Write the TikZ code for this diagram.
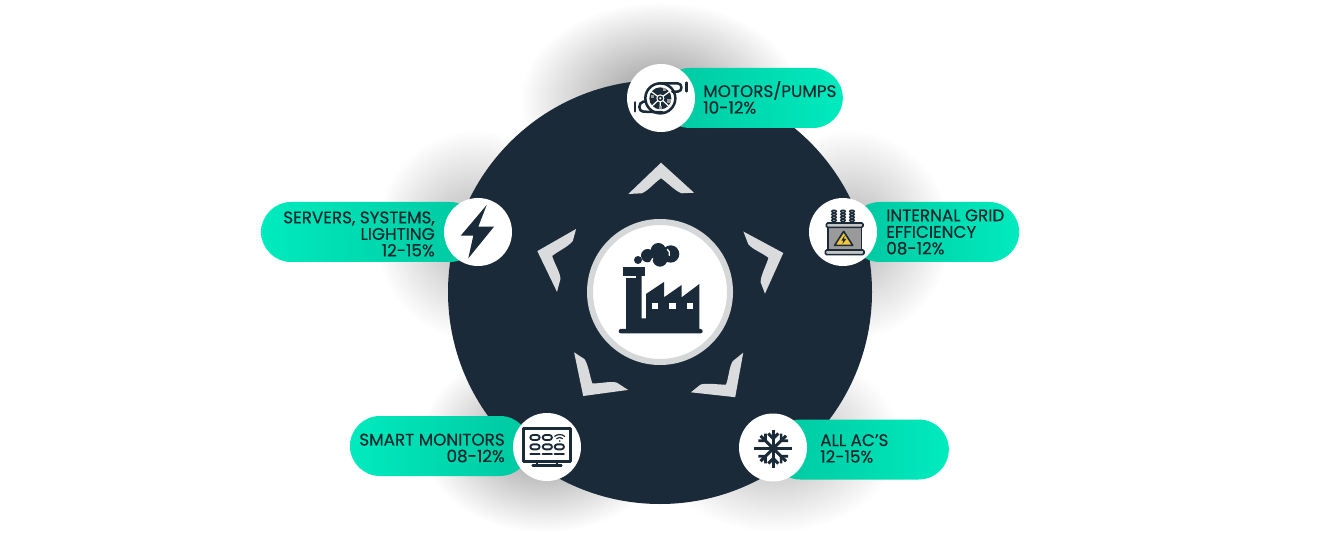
\documentclass[tikz,border=0pt]{standalone}
\usepackage{fontspec}
\setmainfont[FakeBold=0.45]{Poppins}
\usetikzlibrary{shapes.misc,fadings}
\definecolor{navy}{HTML}{1B2A38}
\definecolor{ink}{HTML}{0E2A30}
\definecolor{mintA}{HTML}{00C7A0}
\definecolor{mintB}{HTML}{00EBBE}
\definecolor{chev}{HTML}{D9DBDC}
\definecolor{ringc}{HTML}{D5D7D8}
\definecolor{tgray}{HTML}{9A9A9A}
\definecolor{tlight}{HTML}{C4C4C4}
\definecolor{warn}{HTML}{F4C63F}
\tikzfading[name=softblobA, inner color=transparent!58, outer color=transparent!100]
\tikzfading[name=softblobB, inner color=transparent!70, outer color=transparent!100]
\tikzset{
  pillbox/.style={rounded rectangle, minimum height=45pt, inner sep=0pt, outer sep=0pt},
  pillR/.style={pillbox, left color=mintA, right color=mintB},
  pillL/.style={pillbox, left color=mintB, right color=mintA},
  badge/.style={circle, fill=white, minimum size=51pt, inner sep=0pt, outer sep=0pt},
  lab/.style={text=ink, inner sep=0pt, font=\fontsize{12.6}{12.4}\selectfont},
  blobA/.style={fill=black, path fading=softblobA, fit fading=true},
  blobB/.style={fill=black, path fading=softblobB, fit fading=true},
  icon/.style={draw=navy, line width=1.9pt, line cap=round, line join=round},
  thinicon/.style={draw=navy, line width=1.4pt, line cap=round, line join=round},
}
\begin{document}
\begin{tikzpicture}[x=0.75pt,y=-0.75pt]
\useasboundingbox (0,0) rectangle (1326,534);
\fill[white] (0,0) rectangle (1326,534);
% soft shadows
\fill[blobA] (660,100) ellipse [x radius=140, y radius=98];
\fill[blobB] (475,235) ellipse [x radius=100, y radius=105];
\fill[blobB] (850,235) ellipse [x radius=100, y radius=105];
\fill[blobA] (545,440) ellipse [x radius=125, y radius=92];
\fill[blobB] (775,440) ellipse [x radius=125, y radius=92];
% disc
\node[circle, fill=navy, minimum size=318pt, inner sep=0pt] (disc) at (660,292) {};
% chevrons
\foreach \a in {0,72,144,216,288}{
  \fill[chev, rotate around={\a:(660,292)}]
    (661,162.7) -- (694,192.7) -- (681.7,193.3)
    .. controls (675,191) and (668,183) .. (661,178.3)
    .. controls (654,183) and (648,191) .. (641.7,193.3)
    -- (628.3,194) -- cycle;
}
% centre
\node[circle, fill=white, draw=ringc, line width=4.5pt, minimum size=105pt, inner sep=0pt] (hub) at (660,292) {};
% factory
\begin{scope}[shift={(570,210)},scale=0.3333]
  \fill[navy] (168,197) -- (168,357) -- (152,357)
     .. controls (144,358) and (144,370) .. (152,370) -- (392,370)
     .. controls (400,370) and (400,358) .. (392,357) -- (388,357) -- (388,222) -- (335,262) -- (335,225) -- (282,262) -- (282,216) -- (228,252) -- (228,325) -- (215,325) -- (215,197) -- cycle;
  \fill[navy] (160,170) rectangle (224,197);
  \fill[white] (168,197) rectangle (198,204);
  \fill[white] (245,279) rectangle (265,298);
  \fill[white] (298,279) rectangle (318,298);
  \fill[white] (350,279) rectangle (370,298);
  \fill[navy] (204,150) circle [radius=12];
  \fill[navy] (233,137) circle [radius=20];
  \fill[navy] (265,122) circle [radius=23];
  \fill[navy] (270,148) circle [radius=22];
  \fill[navy] (302,132) circle [radius=26];
  \draw[white, line width=1pt, line cap=round] (245,168) .. controls (240,158) and (243,150) .. (248,146);
  \draw[white, line width=1pt, line cap=round] (292,118) .. controls (297,122) and (300,128) .. (298,136);
\end{scope}
% pills
\node[pillR, minimum width=137pt] (pillTop) at (751.5,98) {};
\node[pillR, minimum width=127pt] (pillRight) at (934.5,232) {};
\node[pillL, minimum width=164pt] (pillLeft) at (370.5,232) {};
\node[pillL, minimum width=135pt] (pillBL) at (440,446) {};
\node[pillR, minimum width=134pt] (pillBR) at (859.5,449.5) {};
% badges
\node[badge] (motor) at (661,98) {};
\node[badge] (grid) at (843,232) {};
\node[badge] (power) at (478,232) {};
\node[badge] (screen) at (547,447) {};
\node[badge] (snow) at (773,447.5) {};
% labels
\node[lab, anchor=west, align=left] (tTop) at (703,97.5) {MOTORS/PUMPS\\10-12\%};
\node[lab, anchor=west, align=left] (tRight) at (886,232) {INTERNAL GRID\\EFFICIENCY\\08-12\%};
\node[lab, anchor=east, align=right] (tLeft) at (435,234) {SERVERS, SYSTEMS,\\LIGHTING\\12-15\%};
\node[lab, anchor=east, align=right] (tBL) at (505,448) {SMART MONITORS\\08-12\%};
\node[lab, anchor=west, align=left] (tBR) at (820,448.5) {ALL AC’S\\12-15\%};
% motor icon
\begin{scope}[shift={(610,60)},scale=0.3333]
  \fill[navy] (151,115) circle [radius=33];
  \draw[icon] (151,115) circle [radius=45];
  \draw[white, line width=0.9pt] (151,115) -- (120,92) (151,115) -- (182,92) (151,115) -- (151,150) (151,115) -- (124,140) (151,115) -- (178,140);
  \fill[white] (151,115) circle [radius=12];
  \draw[navy, line width=1.1pt] (151,115) circle [radius=6];
  \fill[tgray] (158,84) rectangle (168,94);
  \fill[tgray] (122,104) rectangle (132,114);
  \fill[tgray] (172,118) rectangle (182,128);
  \fill[tgray] (146,137) rectangle (156,147);
  \draw[icon] (151,70) -- (203,70) .. controls (218,70) and (218,95) .. (203,95) -- (187,95);
  \draw[icon] (108,125) -- (100,125) .. controls (84,127) and (84,155) .. (100,155) -- (158,157);
  \draw[icon] (75,127) -- (75,154);
  \draw[icon] (229,68) -- (229,94);
\end{scope}
% transformer icon
\begin{scope}[shift={(808,198)},scale=0.3333]
  \foreach \xx in {78,105,132}{
    \draw[navy, line width=1pt, fill=tlight] (\xx-4,62) rectangle (\xx+4,76);
    \foreach \yy in {40,49,58,67}{
      \draw[navy, line width=1pt, fill=tlight] (\xx,\yy) ellipse [x radius=7, y radius=3.5];
    }
  }
  \draw[navy, line width=1.2pt, fill=tgray] (60,85) rectangle (160,160);
  \draw[navy, line width=1.2pt, fill=tlight, rounded corners=1pt] (55,75) rectangle (165,88);
  \draw[navy, line width=1.2pt, fill=tlight, rounded corners=1pt] (52,156) rectangle (168,170);
  \draw[navy, line width=1.2pt, fill=warn, line join=round] (107,100) -- (134,142) -- (80,142) -- cycle;
  \fill[navy] (110,112) -- (100,128) -- (106,128) -- (103,138) -- (115,123) -- (108,123) -- cycle;
\end{scope}
% bolt icon
\fill[navy] (486.7,205) -- (460.7,235.7) -- (473.3,235.7) -- (468.3,258.3) -- (494,226.7) -- (478.3,226.7) -- cycle;
% monitor icon
\begin{scope}[shift={(512,412)},scale=0.3333]
  \draw[icon] (35,50) rectangle (175,148);
  \draw[icon] (75,148) -- (75,160) (135,148) -- (135,160) (62,161) -- (148,161);
  \foreach \xx in {55,92}{
    \draw[thinicon, rounded corners=2pt] (\xx,69) rectangle (\xx+28,84);
    \draw[thinicon, rounded corners=2pt] (\xx,97) rectangle (\xx+28,112);
  }
  \draw[thinicon, rounded corners=2pt] (128,97) rectangle (156,112);
  \foreach \xx in {55,92,128}{ \draw[thinicon] (\xx,126) -- (\xx+28,126); }
  \fill[navy] (143,87) circle [radius=2.5];
  \draw[navy, line width=0.9pt, line cap=round] (134,80) .. controls (139,75) and (147,75) .. (152,80);
  \draw[navy, line width=0.9pt, line cap=round] (128,73) .. controls (136,66) and (150,66) .. (158,73);
\end{scope}
% snowflake icon
\begin{scope}[shift={(773.3,448.5)}]
  \draw[navy, line width=2.3pt] (0,-19) -- (0,19) (-19,0) -- (19,0);
  \draw[navy, line width=2.3pt] (-5,-15) -- (0,-10) -- (5,-15) (-5,15) -- (0,10) -- (5,15);
  \foreach \a in {45,135,225,315}{
    \draw[navy, line width=2.3pt, rotate=\a] (0,0) -- (0,-18);
    \draw[navy, line width=2pt, rotate=\a] (-5,-16) -- (0,-11) -- (5,-16);
  }
\end{scope}
\end{tikzpicture}
\end{document}
